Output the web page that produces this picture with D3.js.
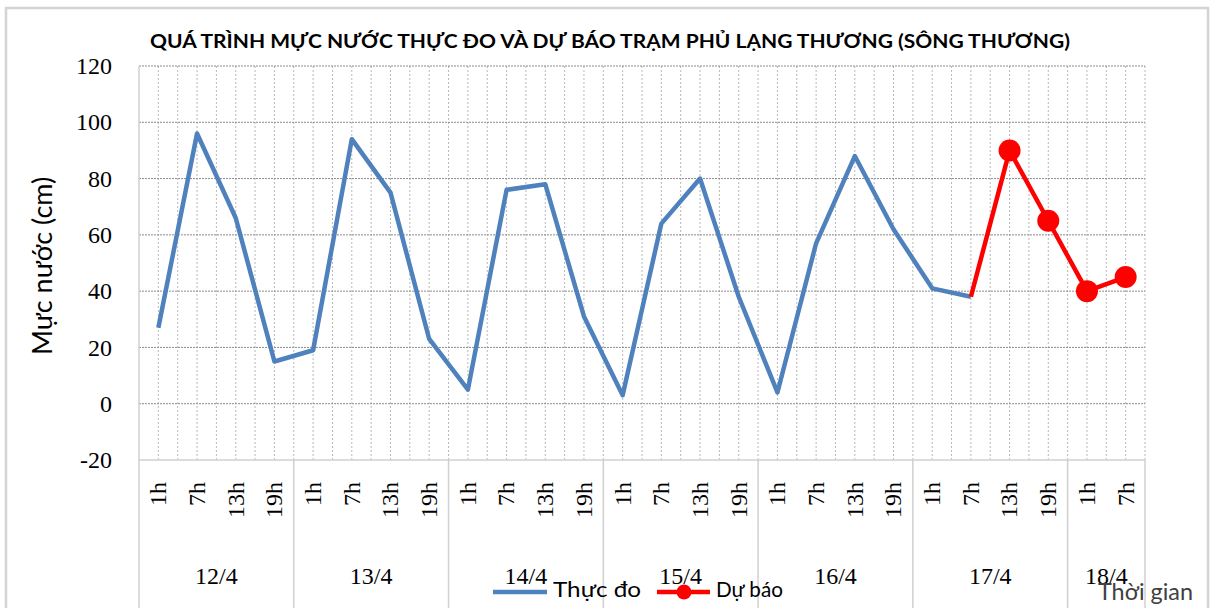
<!DOCTYPE html>
<html>
<head>
<meta charset="utf-8">
<script src="https://cdn.jsdelivr.net/npm/d3@7"></script>
<style>
  body { margin: 0; background: #fff; }
  svg { display: block; }
  .serif { font-family: "Liberation Serif", "DejaVu Serif", serif; fill: #000; }
  .sans { font-family: Lato, "Open Sans", sans-serif; }
</style>
</head>
<body>
<div id="chart"></div>
<script>
// data
var dayLabels = ["12/4", "13/4", "14/4", "15/4", "16/4", "17/4", "18/4"];
var dayCounts = [4, 4, 4, 4, 4, 4, 2];
var hourLabels = ["1h", "7h", "13h", "19h", "1h", "7h", "13h", "19h", "1h", "7h", "13h", "19h",
  "1h", "7h", "13h", "19h", "1h", "7h", "13h", "19h", "1h", "7h", "13h", "19h", "1h", "7h"];
// Thực đo (observed), index 0..21
var observed = [27, 96, 66, 15, 19, 94, 75, 23, 5, 76, 78, 31, 3, 64, 80, 38, 4, 57, 88, 62, 41, 38];
// Dự báo (forecast), starts at index 21 (17/4 7h)
var forecastStart = 21;
var forecast = [38, 90, 65, 40, 45];
var yTicks = [-20, 0, 20, 40, 60, 80, 100, 120];

var width = 1218, height = 608;
var plotLeft = 139, plotRight = 1145, plotTop = 66, plotBottom = 460;

var svg = d3.select("#chart").append("svg").attr("width", width).attr("height", height);

// chart border
svg.append("rect").attr("x", 6).attr("y", 8).attr("width", 1202).attr("height", 620)
  .attr("fill", "#fff").attr("stroke", "#d4d4d4").attr("stroke-width", 2.5);

var x = d3.scaleBand().domain(d3.range(hourLabels.length)).range([plotLeft, plotRight]).padding(0);
var bw = x.bandwidth();
var y = d3.scaleLinear().domain([-20, 120]).range([plotBottom, plotTop]);

function cx(i) { return x(i) + bw / 2; }

// vertical gridlines: at category centres and boundaries
var vLines = [];
hourLabels.forEach(function(h, i) {
  vLines.push(cx(i));
  vLines.push(x(i) + bw);
});
svg.append("g").selectAll("line").data(vLines).enter().append("line")
  .attr("x1", function(d) { return d; }).attr("x2", function(d) { return d; })
  .attr("y1", plotTop).attr("y2", plotBottom)
  .attr("stroke", "#b8b8b8").attr("stroke-width", 1).attr("stroke-dasharray", "2,2");

// horizontal gridlines
svg.append("g").selectAll("line").data(yTicks.filter(function(t) { return t > -20; })).enter().append("line")
  .attr("x1", plotLeft).attr("x2", plotRight)
  .attr("y1", function(d) { return y(d); }).attr("y2", function(d) { return y(d); })
  .attr("stroke", "#8c8c8c").attr("stroke-width", 1).attr("stroke-dasharray", "2,1");

// axis lines
svg.append("line").attr("x1", plotLeft).attr("x2", plotRight).attr("y1", plotBottom).attr("y2", plotBottom)
  .attr("stroke", "#d0d0d0").attr("stroke-width", 1.5);
svg.append("line").attr("x1", plotLeft).attr("x2", plotLeft).attr("y1", plotTop).attr("y2", 608)
  .attr("stroke", "#d0d0d0").attr("stroke-width", 1.5);

// day separators
var bounds = [];
var acc = 0;
dayCounts.forEach(function(c) { acc += c; bounds.push(acc); });
function boundX(b) { return b < hourLabels.length ? x(b) : plotRight; }
svg.append("g").selectAll("line").data(bounds).enter().append("line")
  .attr("x1", boundX).attr("x2", boundX)
  .attr("y1", plotBottom).attr("y2", 608)
  .attr("stroke", "#d0d0d0").attr("stroke-width", 1.5);

// y axis
var yAxis = d3.axisLeft(y).tickValues(yTicks).tickSize(0).tickPadding(27)
  .tickFormat(function(d) { return String(d); });
var yg = svg.append("g").attr("transform", "translate(" + plotLeft + ",0)").call(yAxis);
yg.select(".domain").remove();
yg.selectAll("text").attr("class", "serif").attr("font-size", 24).attr("fill", "#000");

// hour labels, rotated
svg.append("g").selectAll("text").data(hourLabels).enter().append("text")
  .attr("class", "serif")
  .attr("font-size", 24)
  .attr("text-anchor", "end")
  .attr("dy", "0.33em")
  .attr("transform", function(d, i) { return "translate(" + cx(i) + ",482)rotate(-90)"; })
  .text(function(d) { return d; });

// day labels
var starts = [0];
bounds.slice(0, -1).forEach(function(b) { starts.push(b); });
svg.append("g").selectAll("text").data(dayLabels).enter().append("text")
  .attr("class", "serif")
  .attr("font-size", 24)
  .attr("text-anchor", "middle")
  .attr("x", function(d, i) { return (x(starts[i]) + boundX(bounds[i])) / 2; })
  .attr("y", 584)
  .text(function(d) { return d; });

// lines
var line = d3.line().x(function(d) { return cx(d.i); }).y(function(d) { return y(d.v); });
var obsData = observed.map(function(v, i) { return { i: i, v: v }; });
var fcData = forecast.map(function(v, k) { return { i: forecastStart + k, v: v }; });

svg.append("path").datum(obsData).attr("d", line)
  .attr("fill", "none").attr("stroke", "#4f81bd").attr("stroke-width", 4.5).attr("stroke-linejoin", "round");
svg.append("path").datum(fcData).attr("d", line)
  .attr("fill", "none").attr("stroke", "#ff0000").attr("stroke-width", 4.5).attr("stroke-linejoin", "round");
svg.append("g").selectAll("circle").data(fcData.slice(1)).enter().append("circle")
  .attr("cx", function(d) { return cx(d.i); })
  .attr("cy", function(d) { return y(d.v); })
  .attr("r", 11).attr("fill", "#ff0000");

// title
svg.append("text").attr("class", "sans")
  .attr("x", 150).attr("y", 48)
  .attr("font-size", 18).attr("font-weight", "bold").attr("fill", "#000")
  .attr("textLength", 920).attr("lengthAdjust", "spacingAndGlyphs")
  .text("QUÁ TRÌNH MỰC NƯỚC THỰC ĐO VÀ DỰ BÁO TRẠM PHỦ LẠNG THƯƠNG (SÔNG THƯƠNG)");

// y title
svg.append("text").attr("class", "sans")
  .attr("transform", "translate(52,355)rotate(-90)")
  .attr("text-anchor", "start")
  .attr("font-size", 27).attr("fill", "#000")
  .text("Mực nước (cm)");

// x title
svg.append("text").attr("class", "sans")
  .attr("x", 1098).attr("y", 600)
  .attr("font-size", 23).attr("fill", "#404040")
  .attr("textLength", 95).attr("lengthAdjust", "spacingAndGlyphs")
  .text("Thời gian");

// legend
var legend = svg.append("g");
legend.append("line").attr("x1", 493).attr("x2", 547).attr("y1", 592).attr("y2", 592)
  .attr("stroke", "#4f81bd").attr("stroke-width", 4.5);
legend.append("text").attr("class", "sans").attr("x", 553).attr("y", 597)
  .attr("font-size", 21).attr("fill", "#000")
  .attr("textLength", 88).attr("lengthAdjust", "spacingAndGlyphs")
  .text("Thực đo");
legend.append("line").attr("x1", 657).attr("x2", 710).attr("y1", 592).attr("y2", 592)
  .attr("stroke", "#ff0000").attr("stroke-width", 4.5);
legend.append("circle").attr("cx", 684).attr("cy", 592).attr("r", 7.5).attr("fill", "#ff0000");
legend.append("text").attr("class", "sans").attr("x", 716).attr("y", 597)
  .attr("font-size", 21).attr("fill", "#000")
  .attr("textLength", 67).attr("lengthAdjust", "spacingAndGlyphs")
  .text("Dự báo");
</script>
</body>
</html>
